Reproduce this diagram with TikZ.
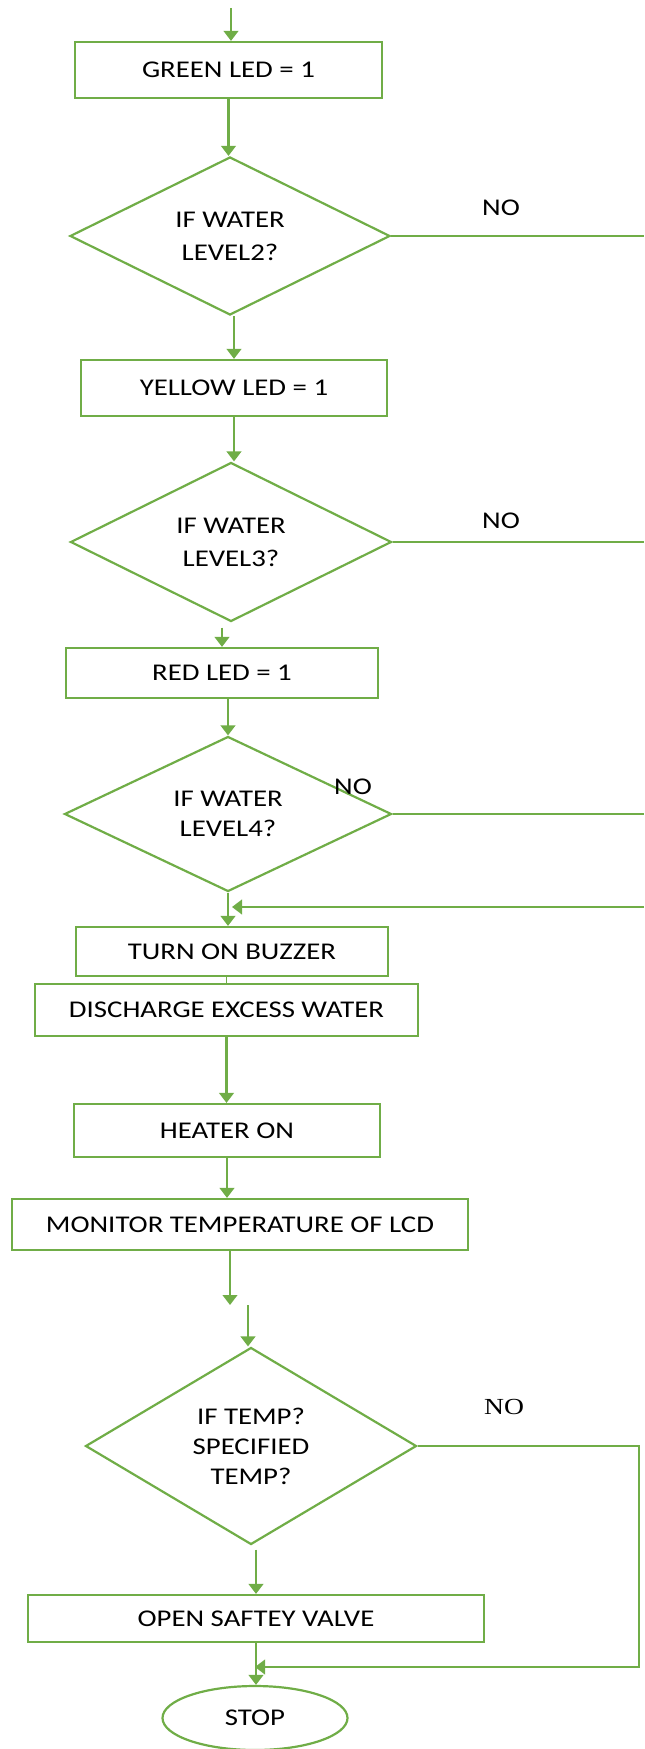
\documentclass[tikz,border=0pt]{standalone}
\usepackage{fontspec}
\setmainfont{Carlito}[FakeStretch=1.2]
\newfontfamily\nofont{Liberation Serif}[FakeStretch=1.2]
\usepackage{xcolor}
\usetikzlibrary{shapes.geometric,arrows.meta}
\definecolor{flow}{HTML}{70AD47}

\begin{document}
\begin{tikzpicture}[x=0.5pt,y=-0.5pt,line width=1.1pt,
  box/.style={draw=flow,rectangle,inner sep=0pt,font=\fontsize{12}{14}\selectfont},
  test/.style={draw=flow,diamond,inner sep=0pt,align=center,font=\fontsize{12}{16.5}\selectfont},
  arr/.style={draw=flow,-{Triangle[width=7.3pt,length=5pt]}},
  link/.style={draw=flow},
  lbl/.style={font=\fontsize{12}{14}\selectfont}]
\useasboundingbox (0,0) rectangle (644,1749) ;

\node[box,minimum width=153.5pt,minimum height=28pt] (green) at (228.5,70) {GREEN LED = 1} ;
\node[test,minimum width=160pt,minimum height=79pt] (lvl2) at (230,236) {IF WATER\\LEVEL2?} ;
\node[box,minimum width=153pt,minimum height=28pt] (yellow) at (234,388) {YELLOW LED = 1} ;
\node[test,minimum width=160.5pt,minimum height=79.5pt] (lvl3) at (231,542) {IF WATER\\LEVEL3?} ;
\node[box,minimum width=156pt,minimum height=25pt] (red) at (222,673) {RED LED = 1} ;
\node[test,minimum width=163.5pt,minimum height=71pt,font=\fontsize{12}{15}\selectfont] (lvl4) at (228,814) {IF WATER\\LEVEL4?} ;
\node[box,minimum width=156pt,minimum height=24.5pt] (buzzer) at (232,951.5) {TURN ON BUZZER} ;
\node[box,minimum width=191.5pt,minimum height=26pt] (discharge) at (226.5,1010) {DISCHARGE EXCESS WATER} ;
\node[box,minimum width=153pt,minimum height=26.5pt] (heater) at (227,1130.5) {HEATER ON} ;
\node[box,minimum width=228pt,minimum height=25.5pt] (monitor) at (240,1224.5) {MONITOR TEMPERATURE OF LCD} ;
\node[test,minimum width=165.5pt,minimum height=98.5pt,font=\fontsize{12}{15}\selectfont] (temp) at (251,1446) {IF TEMP?\\SPECIFIED\\TEMP?} ;
\node[box,minimum width=228pt,minimum height=23.5pt] (valve) at (256,1618.5) {OPEN SAFTEY VALVE} ;
\node[draw=flow,ellipse,inner sep=0pt,minimum width=92.5pt,minimum height=32pt,lbl] (stop) at (255,1718) {STOP} ;

\node[lbl] (no2) at (501,208) {NO} ;
\node[lbl] (no3) at (501,521) {NO} ;
\node[lbl] (no4) at (353,787) {NO} ;
\node[font=\nofont\fontsize{11.5}{13}\selectfont] (notemp) at (504,1407) {NO} ;

\coordinate (entry) at (231,8) ;
\coordinate (edge) at (644,0) ;
\coordinate (ret) at (644,907) ;
\coordinate (gap1) at (230,1305) ;
\coordinate (gap2) at (248,1305) ;
\coordinate (loopc) at (639,1667) ;

\draw[arr] (entry) -- (entry |- green.north) ;
\draw[arr] (green.south) -- (green.south |- lvl2.north) ;
\draw[arr] (yellow.north |- lvl2.south) -- (yellow.north) ;
\draw[arr] (yellow.south) -- (yellow.south |- lvl3.north) ;
\draw[arr,shorten <=2.5pt] (red.north |- lvl3.south) -- (red.north) ;
\draw[arr] (lvl4.north |- red.south) -- (lvl4.north) ;
\draw[arr] (lvl4.south) -- (lvl4.south |- buzzer.north) ;
\draw[arr] (ret) -- (ret -| buzzer.north) ;
\draw[link,line width=0.5pt] (discharge.north |- buzzer.south) -- (discharge.north) ;
\draw[arr] (discharge.south) -- (discharge.south |- heater.north) ;
\draw[arr] (heater.south) -- (heater.south |- monitor.north) ;
\draw[arr] (gap1 |- monitor.south) -- (gap1) ;
\draw[arr] (gap2) -- (gap2 |- temp.north) ;
\draw[arr,shorten <=2pt] (valve.north |- temp.south) -- (valve.north) ;
\draw[arr] (valve.south) -- (valve.south |- stop.north) ;

\draw[link] (lvl2.east) -- (lvl2.east -| edge) ;
\draw[link] (lvl3.east) -- (lvl3.east -| edge) ;
\draw[link] (lvl4.east) -- (lvl4.east -| edge) ;
\draw[arr] (temp.east) -| (loopc) -- (loopc -| stop.north) ;

\end{tikzpicture}
\end{document}
